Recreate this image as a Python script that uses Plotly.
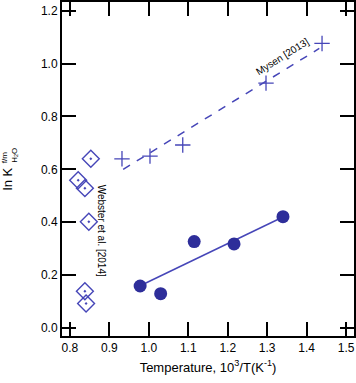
import plotly.graph_objects as go

# Data
this_x = [0.978, 1.030, 1.115, 1.216, 1.340]
this_y = [0.159, 0.130, 0.327, 0.318, 0.421]
fit_x = [0.978, 1.340]
fit_y = [0.160, 0.420]

mysen_x = [0.932, 1.003, 1.086, 1.297, 1.439]
mysen_y = [0.640, 0.650, 0.692, 0.926, 1.076]
mysen_fit_x = [0.935, 1.432]
mysen_fit_y = [0.600, 1.057]

webster_x = [0.853, 0.821, 0.838, 0.848, 0.838, 0.841]
webster_y = [0.640, 0.559, 0.529, 0.402, 0.139, 0.093]

x_ticks = [0.8, 0.9, 1.0, 1.1, 1.2, 1.3, 1.4, 1.5]
y_ticks = [0.0, 0.2, 0.4, 0.6, 0.8, 1.0, 1.2]

dark = "#2e2e9a"
blue = "#4646b8"
font = "Liberation Sans, Arial, Helvetica, sans-serif"

fig = go.Figure()
fig.add_trace(go.Scatter(x=mysen_fit_x, y=mysen_fit_y, mode="lines",
                         line=dict(color=blue, width=1.5, dash="8px,8px")))
fig.add_trace(go.Scatter(x=mysen_x, y=mysen_y, mode="markers",
                         marker=dict(symbol="cross-thin-open", size=11, color=blue,
                                     line=dict(color=blue, width=1.3))))
fig.add_trace(go.Scatter(x=fit_x, y=fit_y, mode="lines",
                         line=dict(color=blue, width=1.5)))
fig.add_trace(go.Scatter(x=this_x, y=this_y, mode="markers",
                         marker=dict(symbol="circle", size=13, color=dark)))
fig.add_trace(go.Scatter(x=webster_x, y=webster_y, mode="markers",
                         marker=dict(symbol="diamond-open-dot", size=13,
                                     color=blue, line=dict(color=blue, width=1.4))))

fig.add_annotation(x=1.338, y=1.028, text="Mysen [2013]", showarrow=False,
                   textangle=-32, font=dict(size=10, color="black", family=font))
fig.add_annotation(x=0.879, y=0.368, text="Webster et al. [2014]", showarrow=False,
                   textangle=90, font=dict(size=10, color="black", family=font))

# y axis title composed of parts
fig.add_annotation(xref="paper", yref="paper", x=(7 - 62) / 293, y=0.470,
                   xanchor="center", yanchor="middle", text="ln K", showarrow=False,
                   textangle=-90, font=dict(size=13, color="black", family=font))
fig.add_annotation(xref="paper", yref="paper", x=(5 - 62) / 293, y=0.533,
                   xanchor="center", yanchor="middle", text="f/m", showarrow=False,
                   textangle=-90, font=dict(size=8, color="black", family=font))
fig.add_annotation(xref="paper", yref="paper", x=(14 - 62) / 293, y=0.540,
                   xanchor="center", yanchor="middle", text="H<sub>2</sub>O",
                   showarrow=False, textangle=-90,
                   font=dict(size=8, color="black", family=font))

axis_common = dict(showgrid=False, zeroline=False, showline=True, linecolor="black",
                   linewidth=2, mirror="allticks", ticks="inside", ticklen=14,
                   tickwidth=2, tickcolor="black",
                   tickfont=dict(size=12, color="black", family=font))

fig.update_xaxes(range=[0.78, 1.52], tickvals=x_ticks,
                 ticktext=[f"{v:.1f}" for v in x_ticks],
                 title=dict(text="Temperature, 10<sup>3</sup>/T(K<sup>-1</sup>)",
                            font=dict(size=13, color="black", family=font), standoff=8),
                 **axis_common)
fig.update_yaxes(range=[-0.030, 1.2327], tickvals=y_ticks,
                 ticktext=[f"{v:.1f}" for v in y_ticks], **axis_common)

fig.update_layout(width=356, height=383, showlegend=False,
                  margin=dict(l=62, r=1, t=0, b=47),
                  paper_bgcolor="white", plot_bgcolor="white",
                  font=dict(family=font, color="black"))

fig.write_html("out.html", config={"displayModeBar": False},
               post_script="document.body.style.margin='0';document.body.style.overflow='hidden';")
